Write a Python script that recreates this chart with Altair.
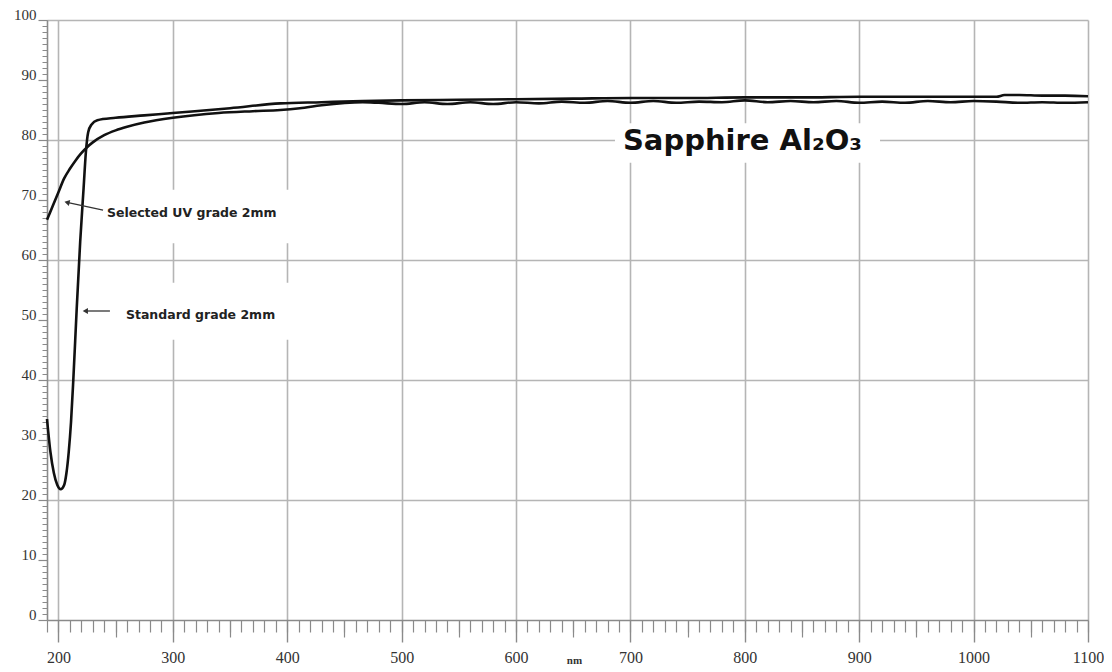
import altair as alt
import pandas as pd

# ---- data ----
std_nm = [190, 193, 196, 199, 202, 205, 207, 209, 211, 213, 216, 219, 222, 224, 226, 229, 234,
          250, 275, 300, 350, 394, 430, 466, 500, 550, 600, 650, 700, 750, 800, 850, 900, 950,
          1000, 1020, 1027, 1040, 1060, 1080, 1100]
std_val = [33.5, 28.0, 24.5, 22.5, 21.8, 22.5, 24.5, 28.0, 33.0, 40.0, 52.0, 63.0, 72.0, 78.0, 81.3, 82.6, 83.3,
           83.7, 84.1, 84.5, 85.3, 86.1, 86.3, 86.5, 86.6, 86.7, 86.8, 86.9, 87.0, 87.0, 87.1, 87.1, 87.2, 87.2,
           87.2, 87.2, 87.5, 87.5, 87.4, 87.4, 87.3]

sel_nm = [190, 195, 200, 205, 210, 215, 220, 225, 230, 240, 250, 260, 275, 300, 340, 370, 394, 411, 430,
          466, 480, 500, 520, 540, 560, 580, 600, 620, 640, 660, 680, 700, 720, 740, 760, 780, 800,
          820, 840, 860, 880, 900, 920, 940, 960, 980, 1000, 1020, 1040, 1060, 1080, 1100]
sel_val = [66.7, 69.0, 71.3, 73.6, 75.2, 76.6, 77.8, 78.8, 79.6, 80.8, 81.6, 82.2, 82.9, 83.7, 84.5, 84.8, 85.0, 85.3, 85.8,
           86.3, 86.2, 86.0, 86.3, 86.0, 86.3, 86.0, 86.3, 86.1, 86.4, 86.2, 86.5, 86.2, 86.5, 86.2, 86.4, 86.3, 86.6,
           86.3, 86.5, 86.3, 86.5, 86.2, 86.4, 86.2, 86.5, 86.3, 86.5, 86.4, 86.2, 86.3, 86.2, 86.3]

x_major = list(range(200, 1101, 100))
x_mid = list(range(250, 1100, 100))
x_minor = list(range(190, 1101, 10))
y_major = list(range(0, 101, 10))
y_minor = list(range(0, 101, 1))
y_grid = [20, 40, 60, 80, 100]

labels_text = ["Selected UV grade 2mm", "Standard grade 2mm"]
labels_nm = [242.4, 259.0]
labels_val = [67.8, 50.8]

title_text = ["Sapphire Al\u2082O\u2083"]
title_nm = [693.5]
title_val = [79.8]

box_x = [236.3, 240.7, 686.5]
box_x2 = [404.2, 404.2, 918.2]
box_y = [62.8, 46.7, 76.2]
box_y2 = [71.7, 56.2, 82.8]

arrow_tail_nm = [239.0, 245.0]
arrow_tail_val = [68.3, 51.5]
arrow_head_nm = [207.5, 223.5]
arrow_head_val = [69.6, 51.5]

# ---- tables ----
std_df = pd.DataFrame({"nm": std_nm, "T": std_val})
sel_df = pd.DataFrame({"nm": sel_nm, "T": sel_val})
lab_df = pd.DataFrame({"nm": labels_nm, "T": labels_val, "text": labels_text})
ttl_df = pd.DataFrame({"nm": title_nm, "T": title_val, "text": title_text})
box_df = pd.DataFrame({"x": box_x, "x2": box_x2, "y": box_y, "y2": box_y2})
arr_df = pd.DataFrame({"x": arrow_tail_nm, "y": arrow_tail_val, "x2": arrow_head_nm, "y2": arrow_head_val})

XS = alt.Scale(domain=[190, 1100], nice=False, zero=False)
YS = alt.Scale(domain=[0, 100], nice=False, zero=False)

TICK = "#8a8a8a"
GRID = "#b5b5b5"
LAB = "#333333"

ax_none = dict(labels=False, domain=False, grid=False, title=None)

boxes = alt.Chart(box_df).mark_rect(color="white").encode(
    x=alt.X("x:Q", scale=XS, axis=alt.Axis(values=x_minor, orient="bottom", tickSize=12,
                                           tickColor=TICK, tickWidth=1.2, **ax_none)),
    x2="x2:Q",
    y=alt.Y("y:Q", scale=YS, axis=alt.Axis(values=y_minor, orient="left", tickSize=5,
                                           tickColor=TICK, tickWidth=1, **ax_none)),
    y2="y2:Q",
)

std_line = alt.Chart(std_df).mark_line(color="#111111", strokeWidth=2.6, interpolate="monotone").encode(
    x=alt.X("nm:Q", scale=XS, axis=alt.Axis(values=x_mid, orient="bottom", tickSize=17,
                                            tickColor=TICK, tickWidth=1.2, **ax_none)),
    y=alt.Y("T:Q", scale=YS, axis=alt.Axis(values=y_grid, orient="left", ticks=False, labels=False,
                                           domain=False, grid=True, gridColor=GRID, gridWidth=1.6,
                                           title=None)),
)

sel_line = alt.Chart(sel_df).mark_line(color="#111111", strokeWidth=2.6, interpolate="monotone").encode(
    x=alt.X("nm:Q", scale=XS, axis=alt.Axis(
        values=x_major, orient="bottom", format="d", tickSize=22, tickColor=TICK, tickWidth=1.4,
        labelPadding=7, labelFont="Liberation Serif", labelFontSize=16, labelColor=LAB,
        labelFlush=False, labelOverlap=False,
        domain=True, domainColor=TICK, domainWidth=1.6,
        grid=True, gridColor=GRID, gridWidth=1.6,
        title="nm", titleFont="Liberation Serif", titleFontWeight="bold", titleFontSize=11,
        titleColor=LAB, titleX=527, titleY=40, titleAlign="center", titleBaseline="middle")),
    y=alt.Y("T:Q", scale=YS, axis=alt.Axis(
        values=y_major, orient="left", format="d", tickSize=9, tickColor=TICK, tickWidth=1.2,
        labelPadding=2, labelFont="Liberation Serif", labelFontSize=15, labelColor=LAB,
        labelBaseline="alphabetic", labelOffset=-1, labelAlign="right", labelFlush=False,
        labelOverlap=False,
        domain=True, domainColor=TICK, domainWidth=1.6, grid=False, title=None)),
)

labels = alt.Chart(lab_df).mark_text(font="DejaVu Sans", fontWeight="bold", fontSize=12.5,
                                      color="#222222", align="left", baseline="middle").encode(
    x=alt.X("nm:Q", scale=XS, axis=None),
    y=alt.Y("T:Q", scale=YS, axis=None),
    text="text:N",
)

title = alt.Chart(ttl_df).mark_text(font="DejaVu Sans", fontWeight="bold", fontSize=29,
                                     color="#111111", align="left", baseline="middle").encode(
    x=alt.X("nm:Q", scale=XS, axis=None),
    y=alt.Y("T:Q", scale=YS, axis=None),
    text="text:N",
)

arrows = alt.Chart(arr_df).mark_rule(color="#333333", strokeWidth=1.3).encode(
    x=alt.X("x:Q", scale=XS, axis=None),
    y=alt.Y("y:Q", scale=YS, axis=None),
    x2="x2:Q",
    y2="y2:Q",
)

head1 = alt.Chart(arr_df.iloc[[0]]).mark_point(shape="triangle-left", filled=True, size=36,
                                                color="#333333", angle=14, opacity=1).encode(
    x=alt.X("x2:Q", scale=XS, axis=None),
    y=alt.Y("y2:Q", scale=YS, axis=None),
)
head2 = alt.Chart(arr_df.iloc[[1]]).mark_point(shape="triangle-left", filled=True, size=36,
                                                color="#333333", angle=0, opacity=1).encode(
    x=alt.X("x2:Q", scale=XS, axis=None),
    y=alt.Y("y2:Q", scale=YS, axis=None),
)

chart = alt.layer(boxes, std_line, sel_line, labels, title, arrows, head1, head2).resolve_axis(
    x="independent", y="independent"
).properties(
    width=1041, height=600,
    autosize=alt.AutoSizeParams(type="none"),
    padding={"left": 39, "top": 12, "right": 16, "bottom": 44},
    background="white",
).configure_view(stroke=None)

chart.save("out.html", embed_options={"renderer": "svg", "actions": False})
